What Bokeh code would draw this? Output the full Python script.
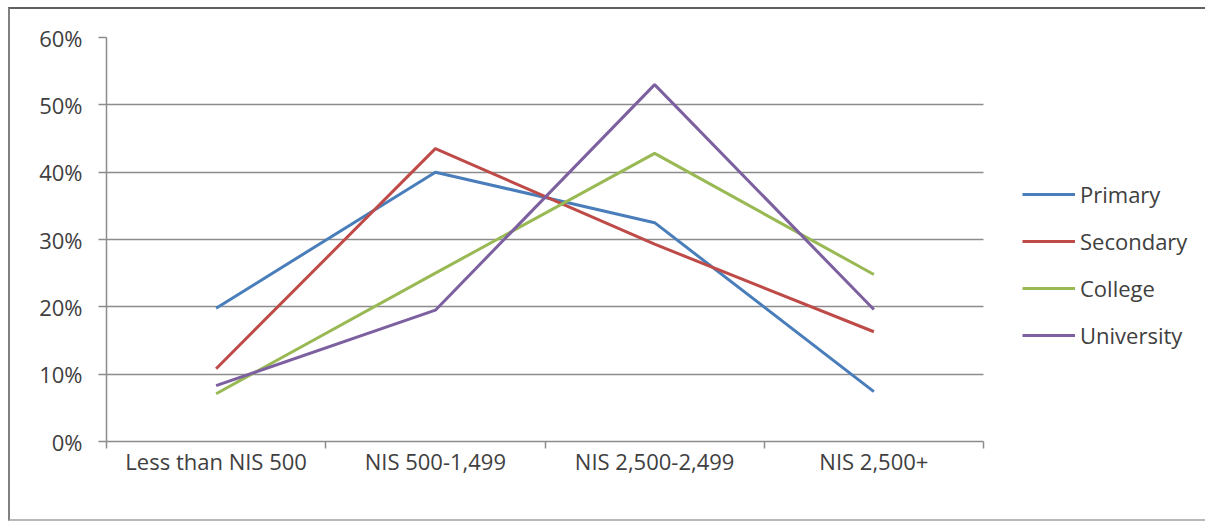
from bokeh.plotting import figure
from bokeh.models import FixedTicker, NumeralTickFormatter, Legend, LegendItem, Range1d
from bokeh.embed import file_html
from bokeh.resources import INLINE

categories = ["Less than NIS 500", "NIS 500-1,499", "NIS 2,500-2,499", "NIS 2,500+"]
primary = [0.198, 0.400, 0.325, 0.074]
secondary = [0.108, 0.435, 0.293, 0.163]
college = [0.071, 0.250, 0.428, 0.248]
university = [0.083, 0.195, 0.530, 0.196]
series_names = ["Primary", "Secondary", "College", "University"]
colors = ["#4a7ebb", "#be4b48", "#98b954", "#7d60a0"]

FONT = "Open Sans"
TXT = "#404040"
GRID = "#8c8c8c"

n = len(categories)
xs = [i + 0.5 for i in range(n)]

W, H = 1197, 514
LEFT, TOP, RIGHT, PLOT_W, PLOT_H = 96, 28, 10, 877, 404
frame_w = W - LEFT - RIGHT
x_end = n * frame_w / PLOT_W   # extra room on the right holds the legend

p = figure(width=W, height=H, output_backend="svg", toolbar_location=None,
           x_range=Range1d(0, x_end), y_range=Range1d(0, 0.6),
           min_border_left=LEFT, min_border_top=TOP,
           min_border_bottom=H - TOP - PLOT_H, min_border_right=RIGHT)
p.styles = {"margin-left": "8px", "margin-top": "7px",
            "border-top": "2px solid #606060", "border-left": "2px solid #808080",
            "border-bottom": "2px solid #b8b8b8", "border-right": "none"}
p.outline_line_color = None
p.background_fill_color = "white"
p.border_fill_color = "white"

items = []
for name, vals, c in zip(series_names, [primary, secondary, college, university], colors):
    r = p.line(xs, vals, line_color=c, line_width=3)
    items.append(LegendItem(label=name, renderers=[r]))

legend = Legend(items=items, location=(916, 91), padding=0, margin=0,
                glyph_width=53, glyph_height=20, spacing=17, label_standoff=5,
                label_text_font=FONT, label_text_font_size="22px", label_text_color=TXT,
                background_fill_alpha=0, border_line_color=None)
p.add_layout(legend)

# x axis
p.xaxis.bounds = (0, n)
p.xaxis.ticker = FixedTicker(ticks=xs, minor_ticks=list(range(n + 1)))
p.xaxis.major_label_overrides = {x: c for x, c in zip(xs, categories)}
p.xaxis.major_tick_out = 0
p.xaxis.major_tick_in = 0
p.xaxis.minor_tick_out = 7
p.xaxis.minor_tick_in = 0
p.xaxis.minor_tick_line_color = GRID
p.xaxis.minor_tick_line_width = 1.5
p.xaxis.axis_line_color = GRID
p.xaxis.axis_line_width = 1.5
p.xaxis.major_label_standoff = -3
p.xaxis.major_label_text_font = FONT
p.xaxis.major_label_text_font_size = "22px"
p.xaxis.major_label_text_color = TXT
p.xgrid.visible = False

# y axis
p.yaxis.ticker = FixedTicker(ticks=[0, 0.1, 0.2, 0.3, 0.4, 0.5, 0.6], minor_ticks=[])
p.yaxis.formatter = NumeralTickFormatter(format="0%")
p.yaxis.major_tick_out = 8
p.yaxis.major_tick_in = 0
p.yaxis.major_tick_line_color = GRID
p.yaxis.major_tick_line_width = 1.5
p.yaxis.axis_line_color = GRID
p.yaxis.axis_line_width = 1.5
p.yaxis.major_label_standoff = 16
p.yaxis.major_label_text_font = FONT
p.yaxis.major_label_text_font_size = "22px"
p.yaxis.major_label_text_color = TXT
p.ygrid.ticker = FixedTicker(ticks=[0.1, 0.2, 0.3, 0.4, 0.5, 0.6])
p.ygrid.cross_bounds = (0, n)
p.ygrid.grid_line_color = GRID
p.ygrid.grid_line_width = 1.5

open("out.html", "w").write(file_html(p, INLINE))
